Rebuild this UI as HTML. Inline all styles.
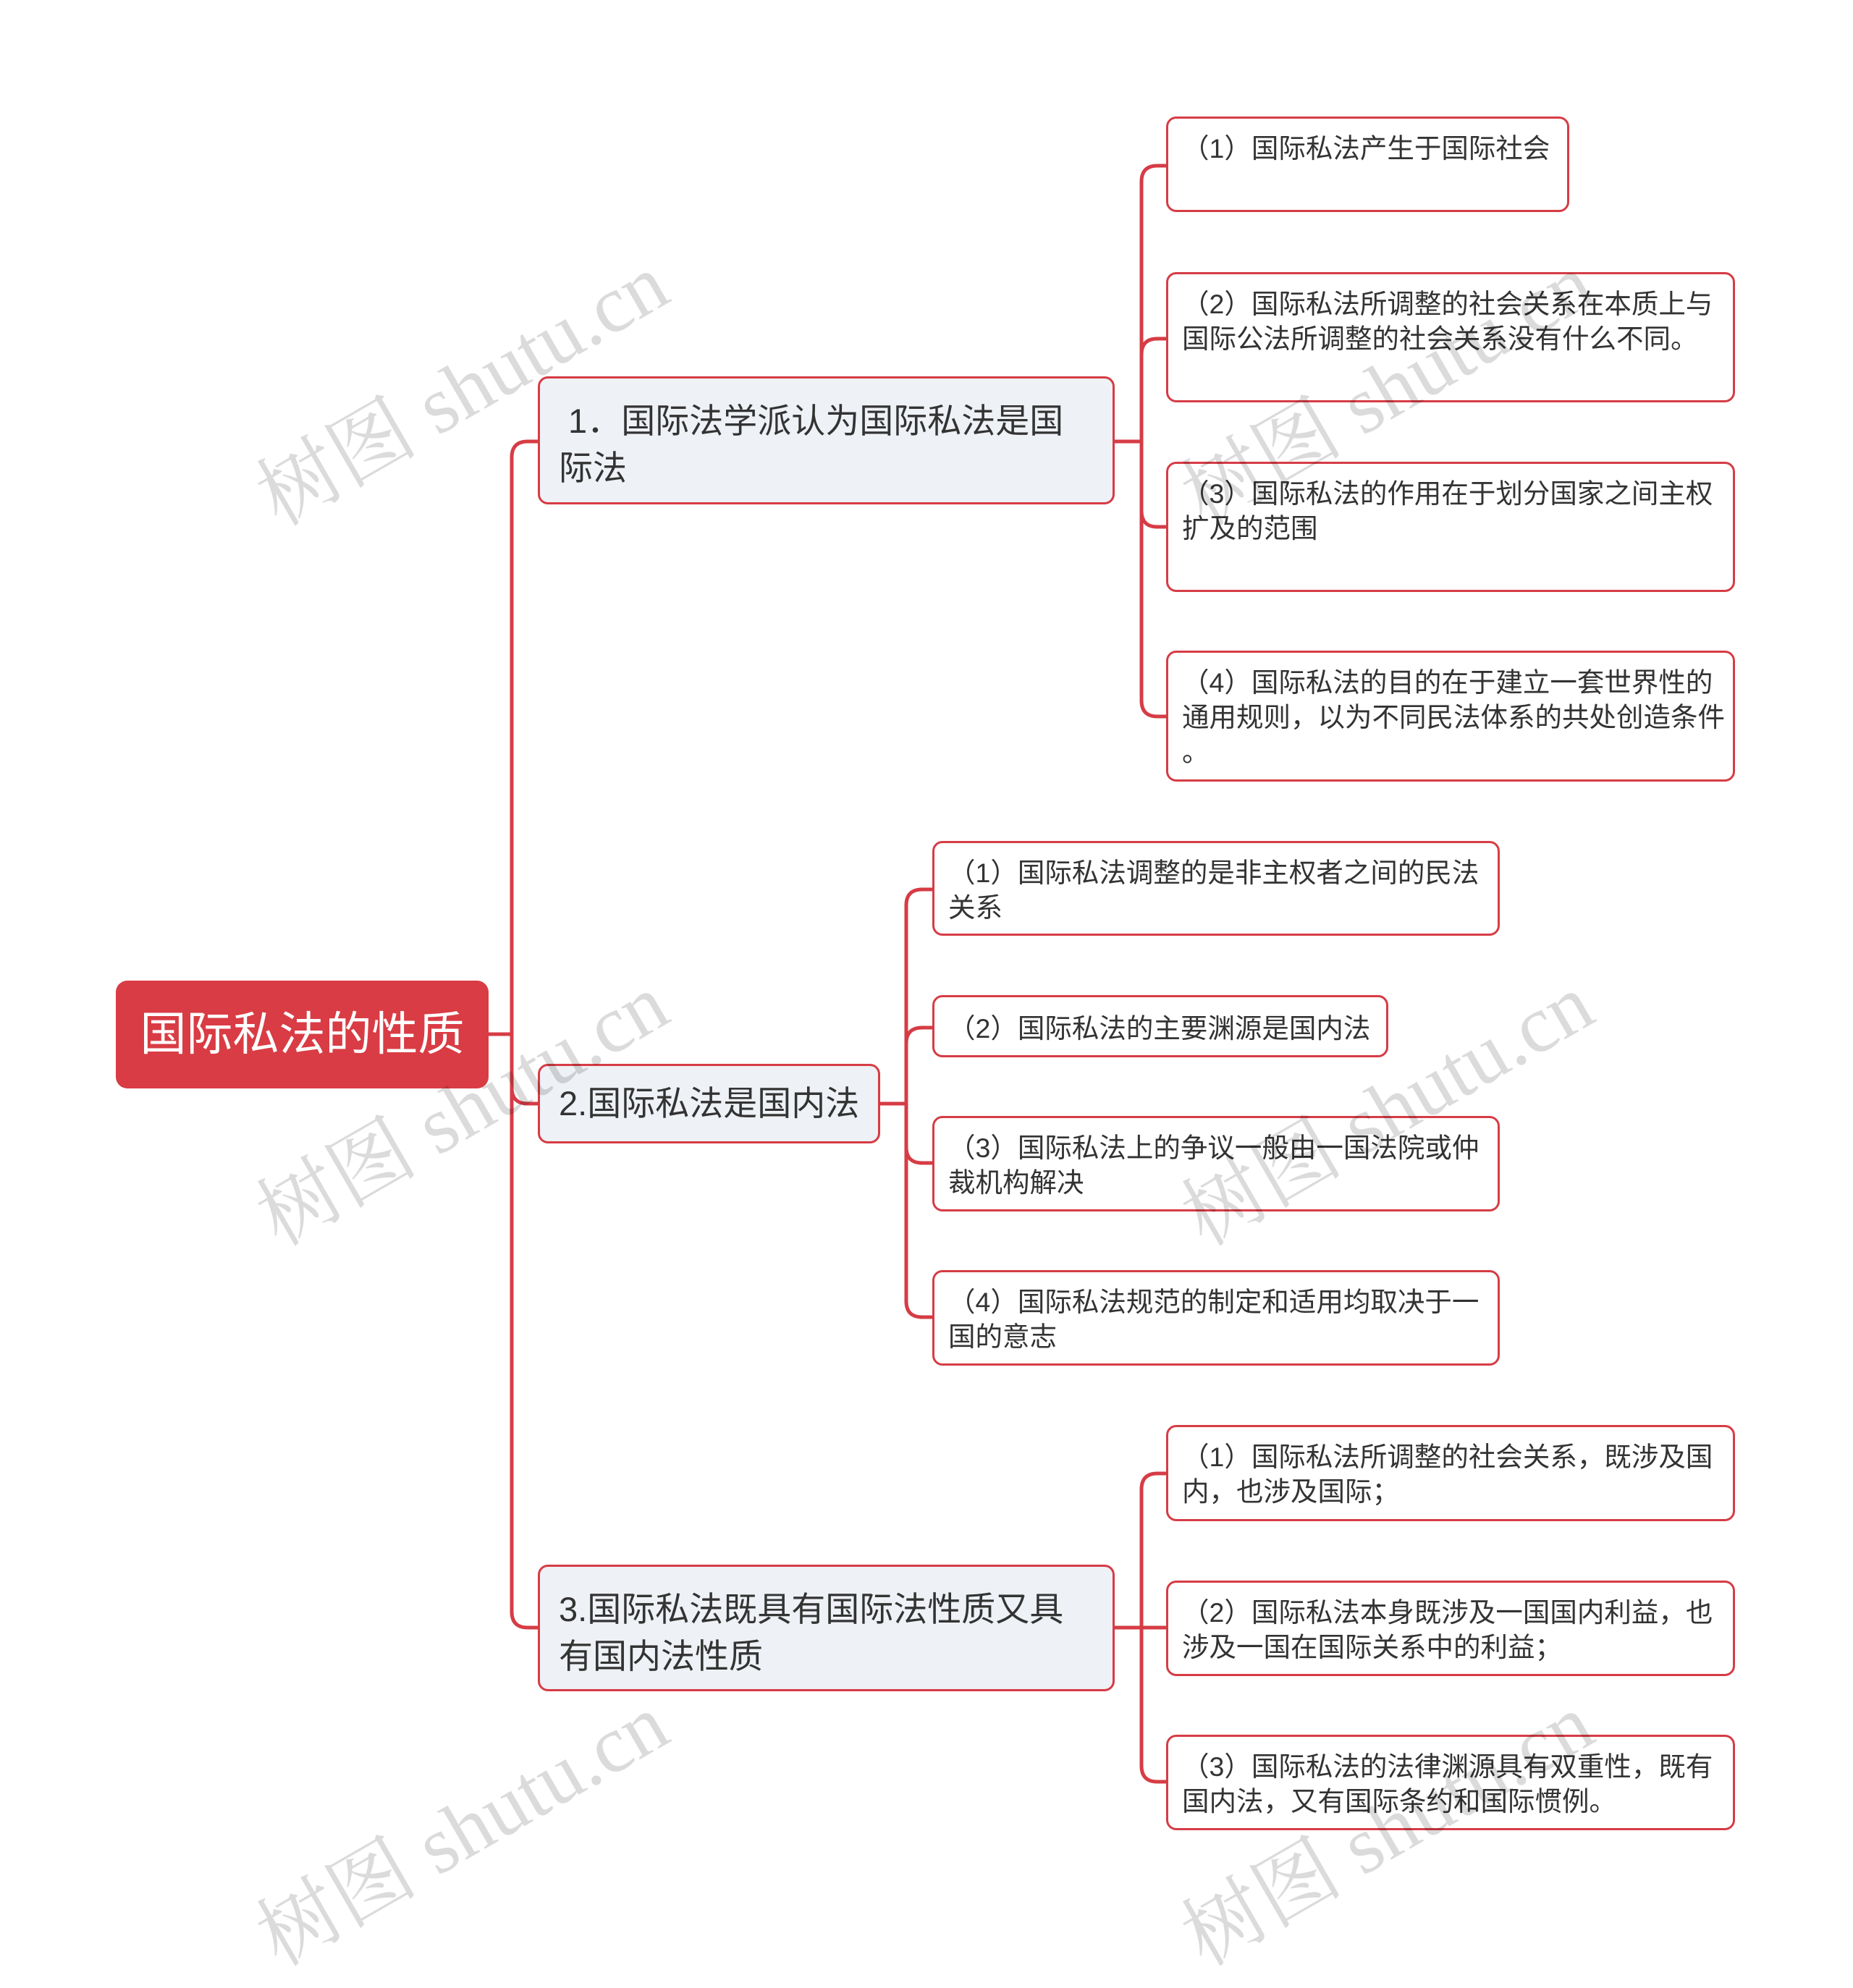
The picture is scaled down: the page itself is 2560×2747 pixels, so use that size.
<!DOCTYPE html>
<html><head><meta charset="utf-8"><style>
body{margin:0;width:2560px;height:2694px;background:#fff;position:relative;overflow:hidden;font-family:"Liberation Sans","Noto Sans CJK SC",sans-serif;}
.b{position:absolute;box-sizing:border-box;border:3px solid #d63c45;border-radius:14px;color:#333;white-space:nowrap;}
.root{background:#d93c44;color:#fff;font-size:64px;text-align:center;line-height:149px;border-radius:16px;border:none}
.br{background:#eef1f5;font-size:47px;line-height:65px;padding:26px 10px 0 26px}
.lf{background:#fff;font-size:37.5px;line-height:48px;padding:17px 8px 0 19px}
.wm{position:absolute;font-family:"Liberation Serif","Noto Serif CJK SC",serif;font-size:112px;color:rgba(0,0,0,0.14);transform:rotate(-30deg);white-space:nowrap;transform-origin:center}
</style></head><body>
<svg width="2560" height="2694" style="position:absolute;left:0;top:0" fill="none" stroke="#d63c45" stroke-width="5">
<path d="M675 1429H707V632Q707 610 729 610H743"/>
<path d="M707 1429V1503Q707 1525 729 1525H743"/>
<path d="M707 1429V2227Q707 2249 729 2249H743"/>
<path d="M1540 610H1577V251Q1577 229 1599 229H1611"/>
<path d="M1577 610V490Q1577 468 1599 468H1611"/>
<path d="M1577 610V706Q1577 728 1599 728H1611"/>
<path d="M1577 610V968Q1577 990 1599 990H1611"/>
<path d="M1216 1525H1252V1251Q1252 1229 1274 1229H1288"/>
<path d="M1252 1525V1442Q1252 1420 1274 1420H1288"/>
<path d="M1252 1525V1585Q1252 1607 1274 1607H1288"/>
<path d="M1252 1525V1798Q1252 1820 1274 1820H1288"/>
<path d="M1540 2249H1577V2058Q1577 2036 1599 2036H1611"/>
<path d="M1577 2249H1611"/>
<path d="M1577 2249V2440Q1577 2462 1599 2462H1611"/>
</svg>
<div class="b root" style="left:160px;top:1355px;width:515px;height:149px">国际私法的性质</div>
<div class="b br" style="left:743px;top:520px;width:797px;height:177px">&nbsp;1．国际法学派认为国际私法是国<br>际法</div>
<div class="b br" style="left:743px;top:1470px;width:473px;height:110px;padding-top:19px">2.国际私法是国内法</div>
<div class="b br" style="left:743px;top:2162px;width:797px;height:175px">3.国际私法既具有国际法性质又具<br>有国内法性质</div>
<div class="b lf" style="left:1611px;top:161px;width:557px;height:132px">（1）国际私法产生于国际社会</div>
<div class="b lf" style="left:1611px;top:376px;width:786px;height:180px">（2）国际私法所调整的社会关系在本质上与<br>国际公法所调整的社会关系没有什么不同。</div>
<div class="b lf" style="left:1611px;top:638px;width:786px;height:180px">（3）国际私法的作用在于划分国家之间主权<br>扩及的范围</div>
<div class="b lf" style="left:1611px;top:899px;width:786px;height:181px">（4）国际私法的目的在于建立一套世界性的<br>通用规则，以为不同民法体系的共处创造条件<br>。</div>
<div class="b lf" style="left:1288px;top:1162px;width:784px;height:131px">（1）国际私法调整的是非主权者之间的民法<br>关系</div>
<div class="b lf" style="left:1288px;top:1375px;width:630px;height:86px;padding-top:19px">（2）国际私法的主要渊源是国内法</div>
<div class="b lf" style="left:1288px;top:1542px;width:784px;height:132px">（3）国际私法上的争议一般由一国法院或仲<br>裁机构解决</div>
<div class="b lf" style="left:1288px;top:1755px;width:784px;height:132px">（4）国际私法规范的制定和适用均取决于一<br>国的意志</div>
<div class="b lf" style="left:1611px;top:1969px;width:786px;height:133px">（1）国际私法所调整的社会关系，既涉及国<br>内，也涉及国际；</div>
<div class="b lf" style="left:1611px;top:2184px;width:786px;height:132px">（2）国际私法本身既涉及一国国内利益，也<br>涉及一国在国际关系中的利益；</div>
<div class="b lf" style="left:1611px;top:2397px;width:786px;height:132px">（3）国际私法的法律渊源具有双重性，既有<br>国内法，又有国际条约和国际惯例。</div>
<div class="wm" style="left:320px;top:450px">树图 shutu.cn</div>
<div class="wm" style="left:320px;top:1445px">树图 shutu.cn</div>
<div class="wm" style="left:320px;top:2440px">树图 shutu.cn</div>
<div class="wm" style="left:1598px;top:450px">树图 shutu.cn</div>
<div class="wm" style="left:1598px;top:1445px">树图 shutu.cn</div>
<div class="wm" style="left:1598px;top:2440px">树图 shutu.cn</div>
</body></html>
